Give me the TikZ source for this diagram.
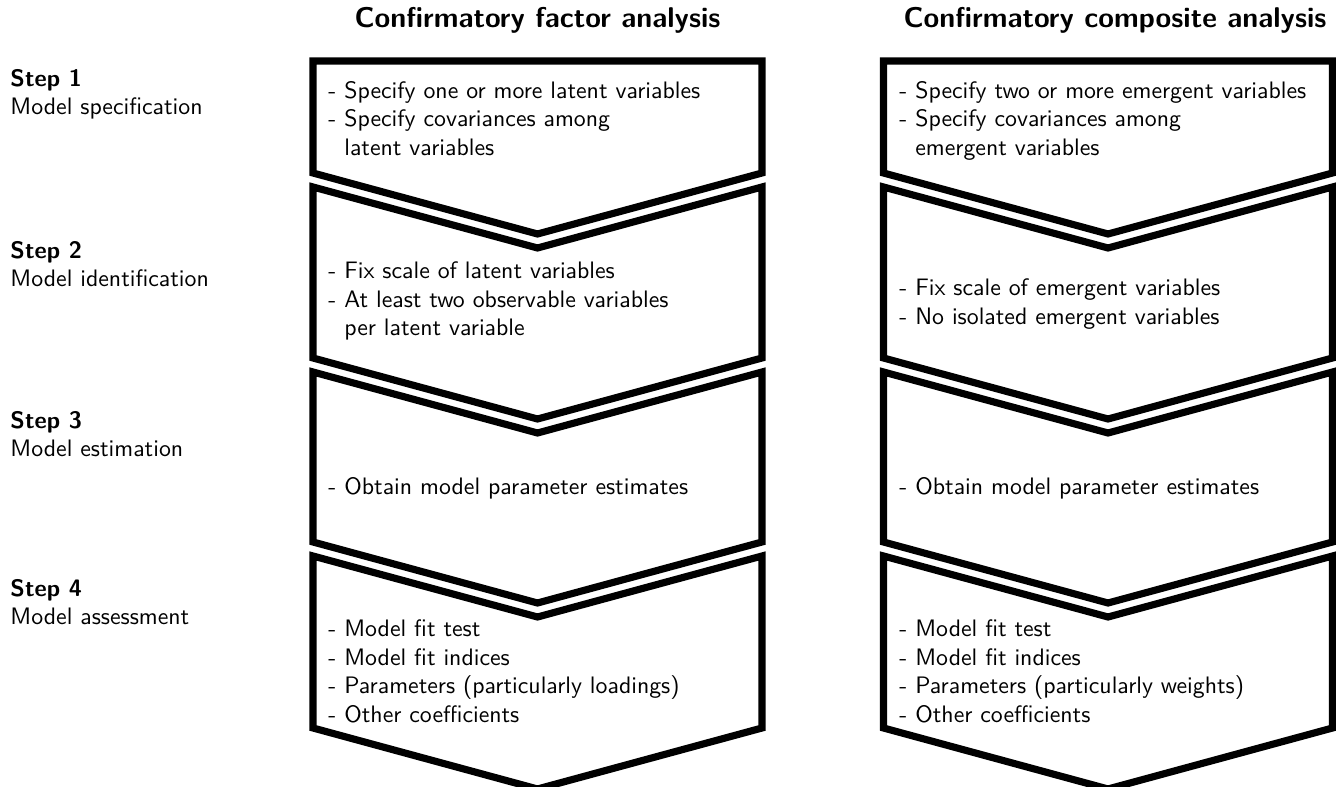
\documentclass[tikz,border=0pt]{standalone}
\usepackage{fontspec}
\usepackage{tikz}
\newcommand{\cont}{\hphantom{-}\ }

\begin{document}
\begin{tikzpicture}[x=0.42pt,y=-0.42pt,
		chevron/.style={line width=3pt,line join=miter},
		item/.style={anchor=north west,inner sep=0pt,align=left,font=\sffamily},
		head/.style={anchor=base,inner sep=0pt,font=\sffamily\large\bfseries}]
		\useasboundingbox (0,0) rectangle (1336,787);
		% headings
		\node[head] (cfa) at (537.5,28) {Confirmatory factor analysis};
		\node[head] (cca) at (1115,28) {Confirmatory composite analysis};
		% steps
		\node[item] (step1) at (10,68.5) {\textbf{Step 1}\\Model specification};
		\node[item] (step2) at (10,240.5) {\textbf{Step 2}\\Model identification};
		\node[item] (step3) at (10,410.5) {\textbf{Step 3}\\Model estimation};
		\node[item] (step4) at (10,578.5) {\textbf{Step 4}\\Model assessment};
		% chevrons
		\foreach \c in {537.5,1108}{
			\draw[chevron] (\c-224.5,61) -- (\c+224.5,61) -- (\c+224.5,173) -- (\c,234) -- (\c-224.5,173) -- cycle;
			\foreach \t/\b in {187/358,372/542,556/728}
				\draw[chevron] (\c-224.5,\t) -- (\c,\t+61) -- (\c+224.5,\t) -- (\c+224.5,\b) -- (\c,\b+61) -- (\c-224.5,\b) -- cycle;
		}
		% left column
		\node[item] (cfa1) at (328,80.5) {- Specify one or more latent variables\\- Specify covariances among\\\cont latent variables};
		\node[item] (cfa2) at (328,261.5) {- Fix scale of latent variables\\- At least two observable variables\\\cont per latent variable};
		\node[item] (cfa3) at (328,476.5) {- Obtain model parameter estimates};
		\node[item] (cfa4) at (328,619.5) {- Model fit test\\- Model fit indices\\- Parameters (particularly loadings)\\- Other coefficients};
		% right column
		\node[item] (cca1) at (899,80.5) {- Specify two or more emergent variables\\- Specify covariances among\\\cont emergent variables};
		\node[item] (cca2) at (899,278.5) {- Fix scale of emergent variables\\- No isolated emergent variables};
		\node[item] (cca3) at (899,476.5) {- Obtain model parameter estimates};
		\node[item] (cca4) at (899,619.5) {- Model fit test\\- Model fit indices\\- Parameters (particularly weights)\\- Other coefficients};
	\end{tikzpicture}
\end{document}
